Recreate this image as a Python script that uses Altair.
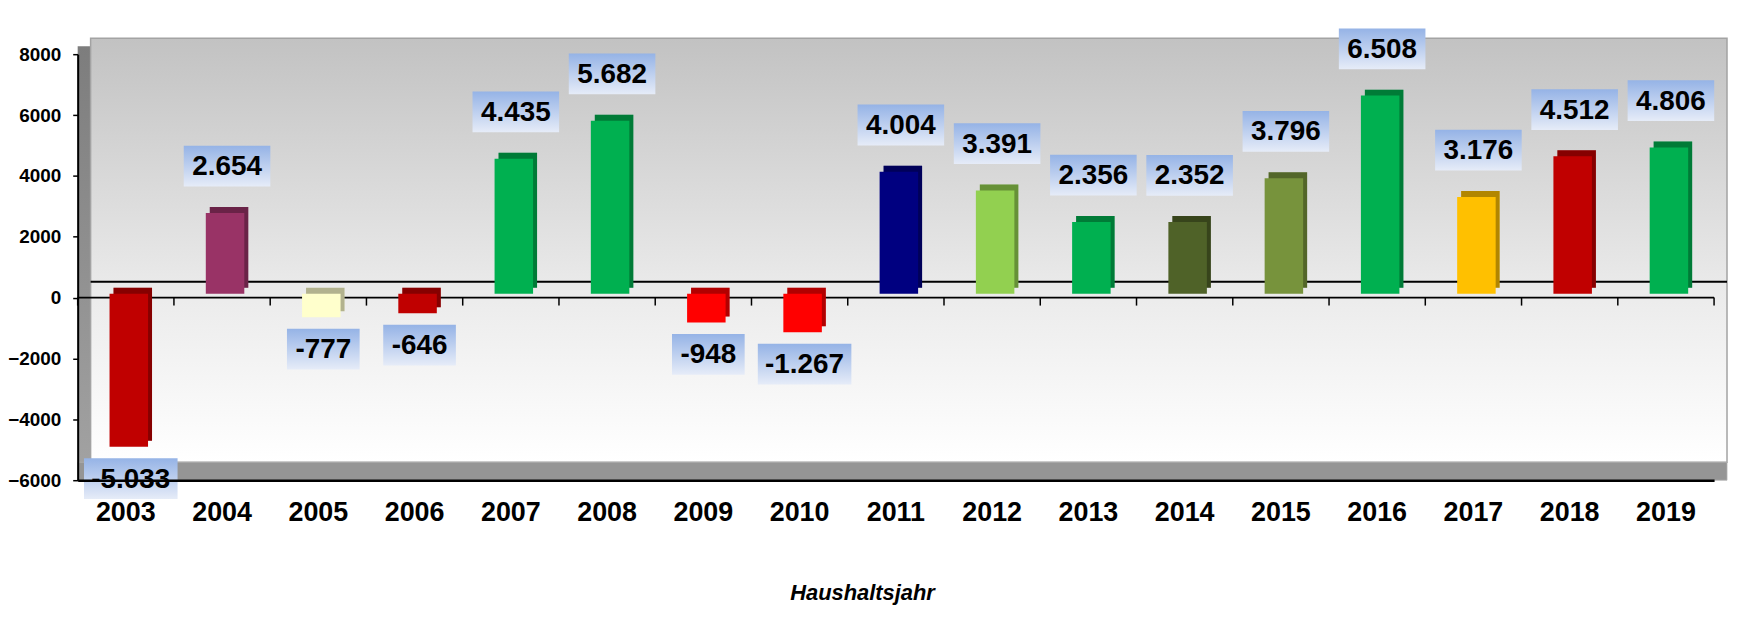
import altair as alt
import pandas as pd

# ---- data ----
YEARS = ["2003", "2004", "2005", "2006", "2007", "2008", "2009", "2010", "2011",
         "2012", "2013", "2014", "2015", "2016", "2017", "2018", "2019"]
VALUES = [-5033, 2654, -777, -646, 4435, 5682, -948, -1267, 4004,
          3391, 2356, 2352, 3796, 6508, 3176, 4512, 4806]
# per-bar colours (style)
COLORS = ["#c00000", "#993366", "#ffffcc", "#c00000", "#00b050", "#00b050",
          "#ff0000", "#ff0000", "#000080", "#92d050", "#00b050", "#4f6228",
          "#77933c", "#00b050", "#ffc000", "#c00000", "#00b050"]
Y_TICKS = [-6000, -4000, -2000, 0, 2000, 4000, 6000, 8000]

LABELS = [f"{v:,}".replace(",", ".") for v in VALUES]
df = pd.DataFrame({"year": YEARS, "value": VALUES, "label": LABELS})
df["n"] = df["label"].str.len()
one = pd.DataFrame({"k": [0]})

# ---- layout ----
W, H = 1644, 428
STEP = W / len(YEARS)
DX, DY = 13, 16          # depth of the 3-D walls
FLOOR = 18
FONT = "Liberation Sans"

xenc = alt.X(
    "year:N", sort=YEARS,
    scale=alt.Scale(paddingInner=0.6, paddingOuter=0.3),
    axis=alt.Axis(
        labelAngle=0, labelFontSize=27, labelFontWeight="bold", labelColor="black",
        labelPadding=19, ticks=False, domainColor="black", domainWidth=2.5,
        title="Haushaltsjahr", titleFontSize=22, titleFontWeight="bold",
        titleFontStyle="italic", titleColor="black", titleX=788, titleY=113,
        titleAlign="center", titleBaseline="middle", zindex=1,
    ),
)
yenc = alt.Y(
    "value:Q",
    scale=alt.Scale(domain=[-6000, 8000], nice=False, zero=False),
    axis=alt.Axis(
        values=Y_TICKS, format="d", labelFontSize=19, labelFontWeight="bold",
        labelColor="black", labelPadding=12, tickSize=5, tickColor="black",
        tickWidth=1.5, domainColor="black", domainWidth=2, grid=False,
        title=None, zindex=1,
    ),
)
cenc = alt.Color("year:N", scale=alt.Scale(domain=YEARS, range=COLORS), legend=None)

wall_grad = alt.Gradient(
    gradient="linear", x1=0, x2=0, y1=0, y2=1,
    stops=[alt.GradientStop(color="#c2c2c2", offset=0),
           alt.GradientStop(color="#ebebeb", offset=0.6),
           alt.GradientStop(color="#ffffff", offset=1)],
)
side_grad = alt.Gradient(
    gradient="linear", x1=0, x2=0, y1=0, y2=1,
    stops=[alt.GradientStop(color="#7d7d7d", offset=0),
           alt.GradientStop(color="#a3a3a3", offset=1)],
)
box_grad = alt.Gradient(
    gradient="linear", x1=0, x2=0, y1=0, y2=1,
    stops=[alt.GradientStop(color="#95b3e6", offset=0),
           alt.GradientStop(color="#e6ecf8", offset=1)],
)

left_wall = alt.Chart(one).mark_rect(fill=side_grad).encode(
    x=alt.value(0), x2=alt.value(DX), y=alt.value(-DY / 2), y2=alt.value(H))
back_wall = alt.Chart(one).mark_rect(fill=wall_grad, stroke="#a3a3a3", strokeWidth=1.5).encode(
    x=alt.value(DX), x2=alt.value(W + DX), y=alt.value(-DY), y2=alt.value(H - FLOOR))
floor = alt.Chart(one).mark_rect(fill="#959595", stroke="#b0b0b0", strokeWidth=0.8).encode(
    x=alt.value(0), x2=alt.value(W + DX), y=alt.value(H - FLOOR), y2=alt.value(H))
back_line = alt.Chart(one).mark_rule(color="black", strokeWidth=2, yOffset=-DY).encode(
    x=alt.value(DX), x2=alt.value(W + DX), y=alt.datum(0))
zero_line = alt.Chart(one).mark_rule(color="black", strokeWidth=2).encode(
    x=alt.value(0), x2=alt.value(W), y=alt.datum(0))
ticks = alt.Chart(df).mark_rule(color="black", strokeWidth=1.5, xOffset=-STEP / 2, y2Offset=8).encode(
    x=xenc, y=alt.datum(0), y2=alt.datum(0))
last_tick = alt.Chart(df).transform_filter(f"datum.year == '{YEARS[-1]}'").mark_rule(
    color="black", strokeWidth=1.5, xOffset=STEP / 2, y2Offset=8).encode(
    x=xenc, y=alt.datum(0), y2=alt.datum(0))

bar_back = alt.Chart(df).mark_bar(xOffset=7, yOffset=-10, y2Offset=-10).encode(
    x=xenc, y=yenc, y2=alt.datum(0), color=cenc)
bar_shade = alt.Chart(df).mark_bar(color="black", opacity=0.3, xOffset=7, yOffset=-10, y2Offset=-10).encode(
    x=xenc, y=yenc, y2=alt.datum(0))
bar_front = alt.Chart(df).mark_bar(xOffset=3, yOffset=-4, y2Offset=-4).encode(
    x=xenc, y=yenc, y2=alt.datum(0), color=cenc)

layers = [left_wall, back_wall, floor, back_line, zero_line, ticks, last_tick,
          bar_back, bar_shade, bar_front]

BOX_W = {4: 73, 5: 87, 6: 94}
BOX_H = 41
for cond, centre in (("datum.value > 0", -51), ("datum.value < 0", 28)):
    for n, w in BOX_W.items():
        sub = df[(df["n"] == n) & ((df["value"] > 0) if centre < 0 else (df["value"] < 0))]
        if sub.empty:
            continue
        layers.append(
            alt.Chart(df).transform_filter(f"{cond} && datum.n == {n}").mark_rect(
                width=w, fill=box_grad, xOffset=5,
                yOffset=centre - BOX_H / 2, y2Offset=centre + BOX_H / 2,
            ).encode(x=xenc, y=yenc, y2=alt.Y2("value"))
        )
    layers.append(
        alt.Chart(df).transform_filter(cond).mark_text(
            font=FONT, fontSize=28, fontWeight="bold", color="black",
            baseline="middle", align="center", dx=5, dy=centre + 1,
        ).encode(x=xenc, y=yenc, text="label:N")
    )

chart = alt.layer(*layers).properties(
    width=W, height=H,
    autosize=alt.AutoSizeParams(type="none"),
    padding={"left": 70, "top": 45, "right": 15, "bottom": 129},
    background="white",
).configure_view(stroke=None).configure(font=FONT)

chart.save("out.html", embed_options={"renderer": "svg", "actions": False})
